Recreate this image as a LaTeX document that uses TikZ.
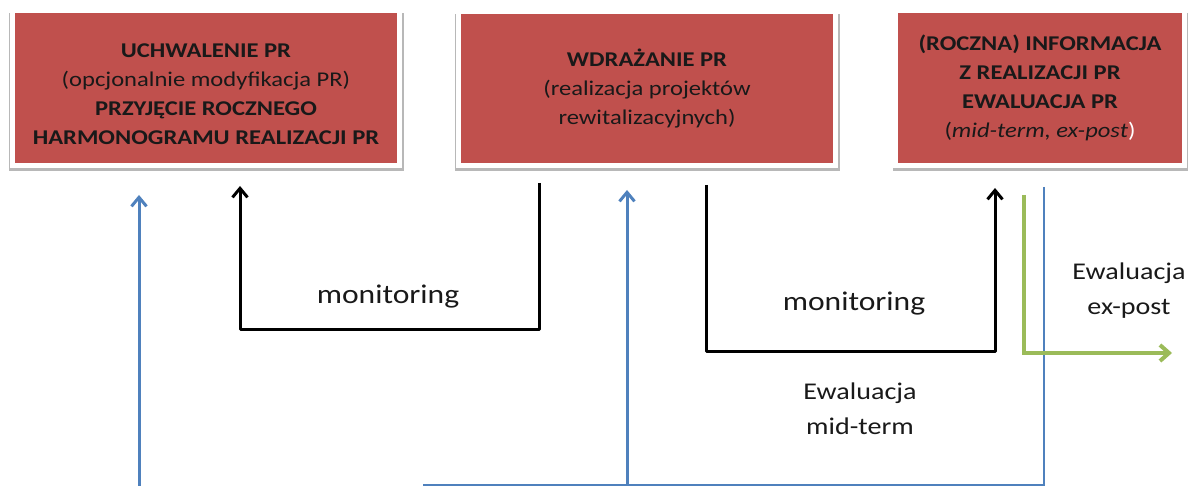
\documentclass[tikz,border=0pt]{standalone}
\usepackage{fontspec}
\setmainfont{Carlito}[FakeStretch=1.17]
\usetikzlibrary{arrows.meta,shadows}
\definecolor{boxred}{HTML}{C0504D}
\definecolor{lineblue}{HTML}{4F81BD}
\definecolor{linegreen}{HTML}{9BBB59}
\tikzset{
  box-r/.style={fill=boxred,draw=white,line width=5pt,inner sep=0pt,align=center,text=black!90,
    general shadow={fill=black!28,shadow xshift=0.5pt,shadow yshift=-4pt,shadow scale=1.02},
    font=\fontsize{21}{29}\selectfont},
  link-k/.style={-{Straight Barb[length=9pt,width=15pt]},line width=3pt,black,line join=round},
  link-b/.style={-{Straight Barb[length=9pt,width=15pt]},line width=3pt,lineblue},
  link-bl/.style={line width=2.5pt,lineblue},
  link-g/.style={-{Straight Barb[length=9pt,width=16pt]},line width=4pt,linegreen},
  lab/.style={align=center,font=\fontsize{27}{35}\selectfont,text=black!90},
  lab-e/.style={lab,font=\fontsize{24}{35}\selectfont},
}

\begin{document}
\begin{tikzpicture}[x=1pt,y=-1pt]
  \useasboundingbox (0,0) rectangle (1189,486);

  % ETAPY
  \node[box-r,minimum width=387pt,minimum height=155pt] (uchw) at (206,88)
    {\rule{0pt}{27pt}\textbf{UCHWALENIE PR}\\(opcjonalnie modyfikacja PR)\\\textbf{PRZYJĘCIE ROCZNEGO}\\\textbf{HARMONOGRAMU REALIZACJI PR}};
  \node[box-r,minimum width=377pt,minimum height=154pt] (wdr) at (647,88.5)
    {\textbf{WDRAŻANIE PR}\\(realizacja projektów\\rewitalizacyjnych)};
  \node[box-r,minimum width=289pt,minimum height=155pt] (info) at (1040,88)
    {\textbf{(ROCZNA) INFORMACJA}\\\textbf{Z REALIZACJI PR}\\\textbf{EWALUACJA PR}\\(\textit{mid-term, ex-post}\textcolor{white}{)}};

  % PUNKTY ZACZEPIENIA
  \coordinate (m1s) at (539,183);
  \coordinate (m1e) at (240,186);
  \coordinate (m2s) at (706,185);
  \coordinate (m2e) at (995,188);
  \coordinate (b1s) at (139,490);
  \coordinate (b1e) at (139,195);
  \coordinate (b2s) at (627,490);
  \coordinate (b2e) at (627,190);
  \coordinate (b3s) at (1044,187);
  \coordinate (b3e) at (423,485);
  \coordinate (gs)  at (1024,195);
  \coordinate (ge)  at (1172,353);

  % MONITORING
  \draw[link-k] (m1s) -- ++(0,147) -| (m1e);
  \node[lab] (mon1) at (388,297) {monitoring};
  \draw[link-k] (m2s) -- ++(0,167) -| (m2e);
  \node[lab] (mon2) at (854,304) {monitoring};

  % EWALUACJA
  \draw[link-b] (b1s) -- (b1e);
  \draw[link-b] (b2s) -- (b2e);
  \draw[link-bl] (b3s) |- (b3e);
  \draw[link-g] (gs) |- (ge);
  \node[lab-e] (evm) at (860,409) {Ewaluacja\\mid-term};
  \node[lab-e] (evp) at (1129,291) {Ewaluacja\\ex-post};

\end{tikzpicture}
\end{document}
